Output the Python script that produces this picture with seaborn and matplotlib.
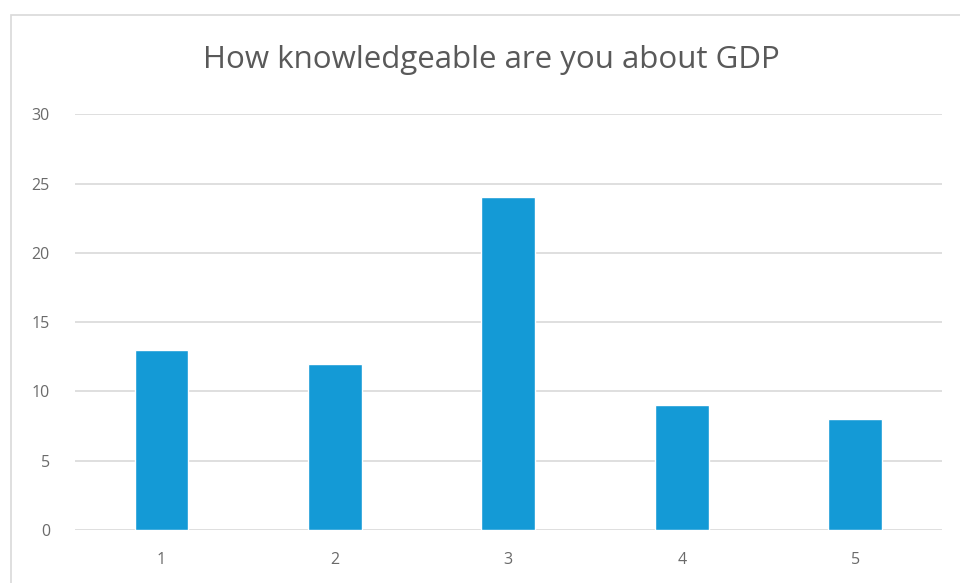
import numpy as np
import pandas as pd
import seaborn as sns
import matplotlib.pyplot as plt
from matplotlib.patches import Rectangle

# data
ratings = ['1', '2', '3', '4', '5']
counts = [13, 12, 24, 9, 8]

df = pd.DataFrame({'rating': ratings, 'count': counts})

sns.set_style("white")
plt.rcParams['font.family'] = ['Open Sans', 'DejaVu Sans']

fig = plt.figure(figsize=(9.6, 5.83), dpi=100)
ax = fig.add_axes([0.078, 0.091, 0.903, 0.713])

sns.barplot(data=df, x='rating', y='count', color='#149ad6', width=0.31,
            saturation=1, ax=ax, zorder=3)

ax.set_ylim(0, 30)
ax.set_xlim(-0.5, 4.5)
ax.set_yticks(range(0, 31, 5))
ax.yaxis.grid(True, color='#d9d9d9', linewidth=1.2, zorder=0)
ax.set_axisbelow(True)
for s in ax.spines.values():
    s.set_visible(False)
ax.tick_params(axis='both', length=0, labelsize=11.5, labelcolor='#6a6a6a')
ax.tick_params(axis='y', pad=18)
ax.tick_params(axis='x', pad=16)
ax.set_xlabel('')
ax.set_ylabel('')

fig.text(0.512, 0.897, 'How knowledgeable are you about GDP', ha='center', va='center',
         fontsize=22.5, color='#595959')

# light chart border like the spreadsheet export
fig.patches.append(Rectangle((11 / 960, -0.01), 1.0, 1 - 15 / 583 + 0.01,
                             transform=fig.transFigure, fill=False,
                             edgecolor='#d9d9d9', linewidth=1.2))

fig.savefig('out.png', dpi=100)
